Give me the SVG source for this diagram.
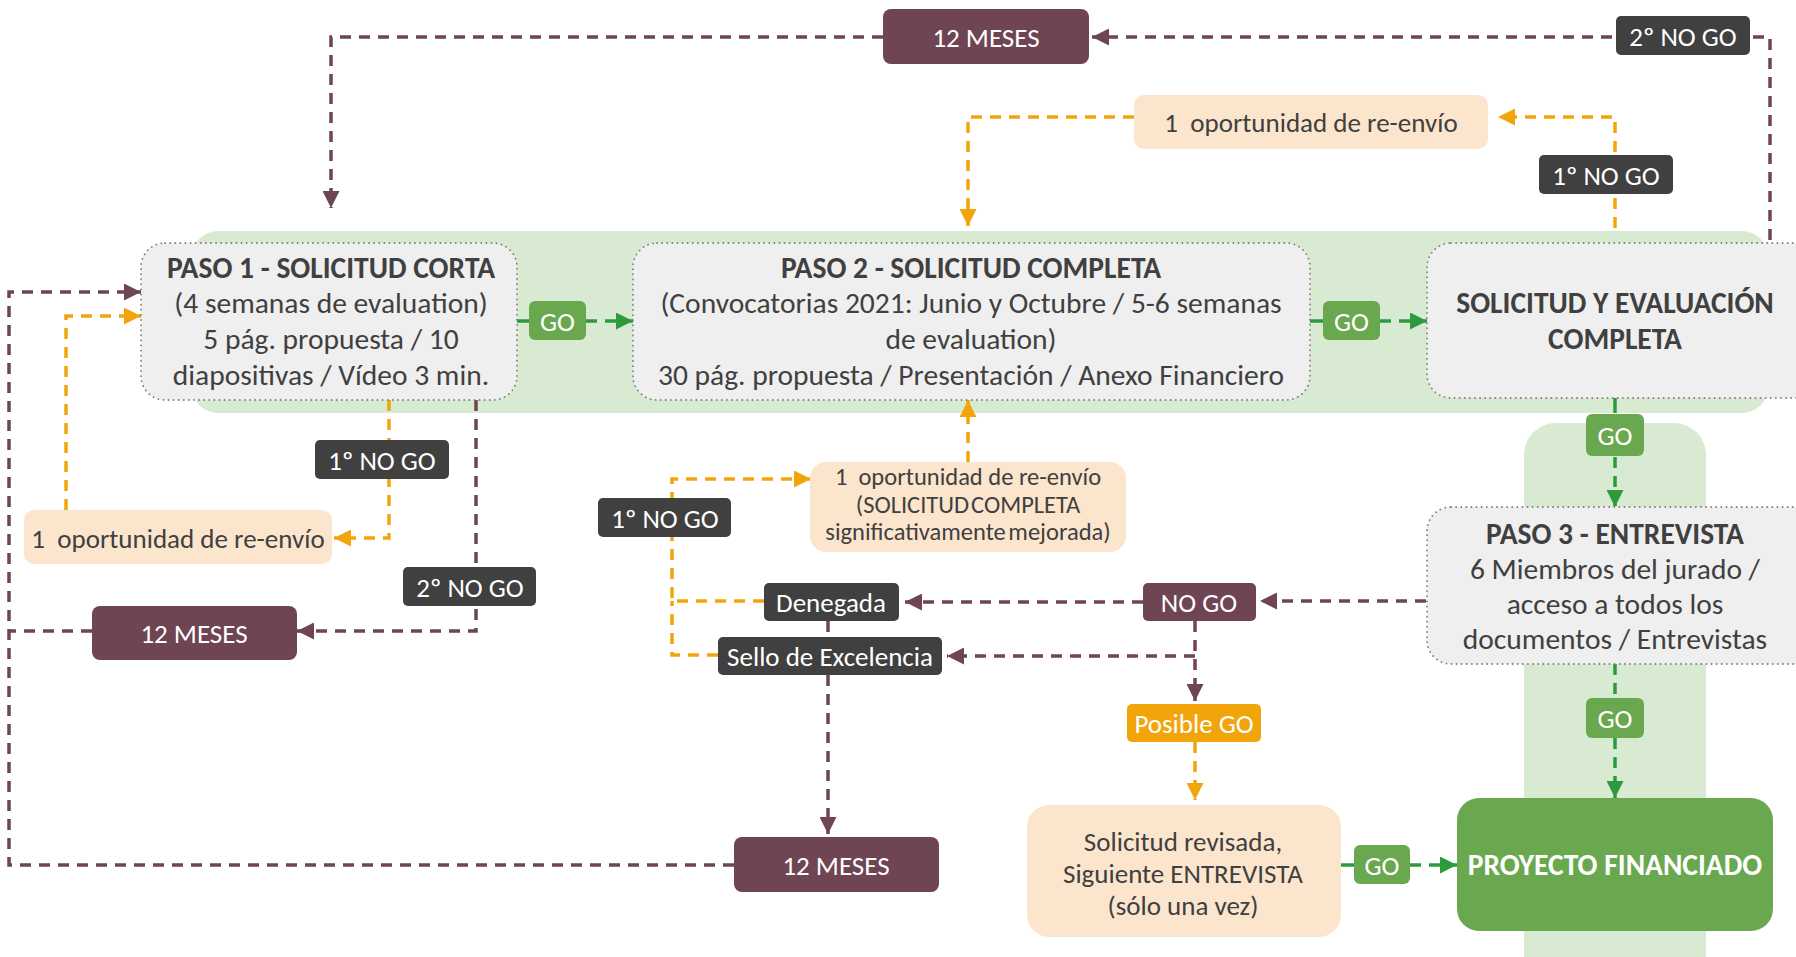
<svg xmlns="http://www.w3.org/2000/svg" width="1796" height="957" viewBox="0 0 1796 957">
<style>
.t{font-family:Carlito,'Liberation Sans Narrow','Liberation Sans',sans-serif;fill:#404040;text-anchor:middle;dominant-baseline:central;font-size:29.5px}
.s{font-size:27px}
.m{font-size:24.5px}
.b{font-weight:bold}
.w{fill:#ffffff}
.pre{white-space:pre}
.band{fill:#d9ead3}
.gray{fill:#efefef;stroke:#7f7f7f;stroke-width:1.8;stroke-dasharray:0.1 5;stroke-linecap:round}
.green{fill:#6aa84f}
.plum{fill:#6f4453}
.dark{fill:#404040}
.peach{fill:#fce5cd}
.orange{fill:#f1a50b}
.lp{fill:none;stroke:#6f4453;stroke-width:3.5;stroke-dasharray:11 8}
.lo{fill:none;stroke:#f1a50b;stroke-width:3.5;stroke-dasharray:11 8}
.lg{fill:none;stroke:#2e9a3e;stroke-width:3.5;stroke-dasharray:11 8}
.lgs{fill:none;stroke:#2e9a3e;stroke-width:3.5}
</style>
<defs>
<marker id="ap" markerUnits="userSpaceOnUse" markerWidth="17" markerHeight="17" refX="15" refY="7.5" orient="auto" viewBox="0 0 15 15"><path d="M0,0 L15,7.5 L0,15 z" fill="#6f4453"/></marker>
<marker id="ao" markerUnits="userSpaceOnUse" markerWidth="17" markerHeight="17" refX="15" refY="7.5" orient="auto" viewBox="0 0 15 15"><path d="M0,0 L15,7.5 L0,15 z" fill="#f1a50b"/></marker>
<marker id="ag" markerUnits="userSpaceOnUse" markerWidth="17" markerHeight="17" refX="15" refY="7.5" orient="auto" viewBox="0 0 15 15"><path d="M0,0 L15,7.5 L0,15 z" fill="#2e9a3e"/></marker>
</defs>
<rect width="1796" height="957" fill="#ffffff"/>
<g id="bands">
<rect class="band" x="192" y="231" width="1576" height="182" rx="26"/>
<rect class="band" x="1524" y="423" width="182" height="570" rx="32"/>
</g>
<g id="connectors">
<path class="lp" d="M1770 240 V37 H1092" marker-end="url(#ap)"/>
<path class="lp" d="M883 37 H331 V208" marker-end="url(#ap)"/>
<path class="lo" d="M1615 228 V117 H1498" marker-end="url(#ao)"/>
<path class="lo" d="M1134 117 H968 V226" marker-end="url(#ao)"/>
<path class="lo" d="M389 400 V538 H334" marker-end="url(#ao)"/>
<path class="lo" d="M66 510 V316 H141" marker-end="url(#ao)"/>
<path class="lp" d="M476 400 V631 H297" marker-end="url(#ap)"/>
<path class="lp" d="M92 631 H9"/>
<path class="lp" d="M734 865 H9 V292 H141" marker-end="url(#ap)"/>
<path class="lo" d="M968 462 V400" marker-end="url(#ao)"/>
<path class="lo" d="M764 601 H672 V479 H811" marker-end="url(#ao)"/>
<path class="lo" d="M718 655 H672 V601"/>
<path class="lp" d="M828 621 V637"/>
<path class="lp" d="M828 675 V834" marker-end="url(#ap)"/>
<path class="lp" d="M1426 601 H1260" marker-end="url(#ap)"/>
<path class="lp" d="M1143 602 H905" marker-end="url(#ap)"/>
<path class="lp" d="M1195 621 V701" marker-end="url(#ap)"/>
<path class="lp" d="M1195 656 H947" marker-end="url(#ap)"/>
<path class="lo" d="M1195 742 V800" marker-end="url(#ao)"/>
<path class="lgs" d="M517 321 H529"/>
<path class="lg" d="M586 321 H633" marker-end="url(#ag)"/>
<path class="lgs" d="M1310 321 H1323"/>
<path class="lg" d="M1380 321 H1427" marker-end="url(#ag)"/>
<path class="lgs" d="M1615 398 V413"/>
<path class="lg" d="M1615 457 V507" marker-end="url(#ag)"/>
<path class="lg" d="M1615 664 V698"/>
<path class="lg" d="M1615 738 V798" marker-end="url(#ag)"/>
<path class="lgs" d="M1341 865 H1354"/>
<path class="lg" d="M1410 865 H1457" marker-end="url(#ag)"/>
</g>
<g id="paso1">
<rect class="gray" x="141" y="243" width="376" height="157" rx="24"/>
<text class="t b" x="331" y="268">PASO 1 - SOLICITUD CORTA</text>
<text class="t" x="331" y="303">(4 semanas de evaluation)</text>
<text class="t" x="331" y="339">5 pág. propuesta / 10</text>
<text class="t" x="331" y="375">diapositivas / Vídeo 3 min.</text>
</g>
<g id="paso2">
<rect class="gray" x="633" y="243" width="677" height="157" rx="24"/>
<text class="t b" x="971" y="268">PASO 2 - SOLICITUD COMPLETA</text>
<text class="t" x="971" y="303">(Convocatorias 2021: Junio y Octubre / 5-6 semanas</text>
<text class="t" x="971" y="339">de evaluation)</text>
<text class="t" x="971" y="375">30 pág. propuesta / Presentación / Anexo Financiero</text>
</g>
<g id="completa">
<rect class="gray" x="1427" y="243" width="400" height="155" rx="24"/>
<text class="t b" x="1615" y="303">SOLICITUD Y EVALUACIÓN</text>
<text class="t b" x="1615" y="339">COMPLETA</text>
</g>
<g id="paso3">
<rect class="gray" x="1427" y="507" width="400" height="157" rx="24"/>
<text class="t b" x="1615" y="534">PASO 3 - ENTREVISTA</text>
<text class="t" x="1615" y="569">6 Miembros del jurado /</text>
<text class="t" x="1615" y="604">acceso a todos los</text>
<text class="t" x="1615" y="639">documentos / Entrevistas</text>
</g>
<g id="go1"><rect class="green" x="529" y="301" width="57" height="39" rx="6"/><text class="t s w" x="557.5" y="321">GO</text></g>
<g id="go2"><rect class="green" x="1323" y="301" width="57" height="39" rx="6"/><text class="t s w" x="1351.5" y="321">GO</text></g>
<g id="go3"><rect class="green" x="1586" y="414" width="58" height="42" rx="6"/><text class="t s w" x="1615" y="435">GO</text></g>
<g id="go4"><rect class="green" x="1586" y="698" width="58" height="40" rx="6"/><text class="t s w" x="1615" y="718">GO</text></g>
<g id="go5"><rect class="green" x="1354" y="845" width="56" height="39" rx="6"/><text class="t s w" x="1382" y="865">GO</text></g>
<g id="meses-top"><rect class="plum" x="883" y="9" width="206" height="55" rx="8"/><text class="t s w" x="986" y="37">12 MESES</text></g>
<g id="nogo2-top"><rect class="dark" x="1616" y="16" width="134" height="39" rx="5"/><text class="t s w" x="1683" y="36">2º NO GO</text></g>
<g id="reenvio-top"><rect class="peach" x="1134" y="95" width="354" height="54" rx="10"/><text class="t s pre" x="1311" y="122">1  oportunidad de re-envío</text></g>
<g id="nogo1-top"><rect class="dark" x="1539" y="155" width="134" height="39" rx="5"/><text class="t s w" x="1606" y="175">1º NO GO</text></g>
<g id="nogo1-left"><rect class="dark" x="315" y="440" width="134" height="39" rx="5"/><text class="t s w" x="382" y="460">1º NO GO</text></g>
<g id="reenvio-left"><rect class="peach" x="24" y="510" width="308" height="54" rx="10"/><text class="t s pre" x="178" y="538">1  oportunidad de re-envío</text></g>
<g id="nogo2-left"><rect class="dark" x="403" y="567" width="133" height="39" rx="5"/><text class="t s w" x="470" y="587">2º NO GO</text></g>
<g id="meses-left"><rect class="plum" x="92" y="606" width="205" height="54" rx="8"/><text class="t s w" x="194" y="633">12 MESES</text></g>
<g id="reenvio-mid"><rect class="peach" x="810" y="462" width="316" height="90" rx="16"/>
<text class="t m pre" x="968" y="477">1  oportunidad de re-envío</text>
<text class="t m" x="968" y="505" style="word-spacing:-3.5px">(SOLICITUD COMPLETA</text>
<text class="t m" x="968" y="532" style="word-spacing:-3px">significativamente mejorada)</text></g>
<g id="nogo1-mid"><rect class="dark" x="598" y="498" width="133" height="39" rx="5"/><text class="t s w" x="665" y="518">1º NO GO</text></g>
<g id="denegada"><rect class="dark" x="764" y="583" width="135" height="38" rx="5"/><text class="t s w" x="831" y="602">Denegada</text></g>
<g id="sello"><rect class="dark" x="718" y="637" width="224" height="38" rx="5"/><text class="t s w" x="830" y="656">Sello de Excelencia</text></g>
<g id="meses-bottom"><rect class="plum" x="734" y="837" width="205" height="55" rx="8"/><text class="t s w" x="836" y="865">12 MESES</text></g>
<g id="nogo"><rect class="plum" x="1143" y="583" width="113" height="38" rx="5"/><text class="t s w" x="1199" y="602">NO GO</text></g>
<g id="posible"><rect class="orange" x="1127" y="704" width="134" height="38" rx="5"/><text class="t s w" x="1194" y="723">Posible GO</text></g>
<g id="revisada"><rect class="peach" x="1027" y="805" width="314" height="132" rx="22"/>
<text class="t s" x="1183" y="841">Solicitud revisada,</text>
<text class="t s" x="1183" y="873">Siguiente ENTREVISTA</text>
<text class="t s" x="1183" y="905">(sólo una vez)</text></g>
<g id="financiado"><rect class="green" x="1457" y="798" width="316" height="133" rx="22"/><text class="t w b" x="1615" y="865">PROYECTO FINANCIADO</text></g>
</svg>
